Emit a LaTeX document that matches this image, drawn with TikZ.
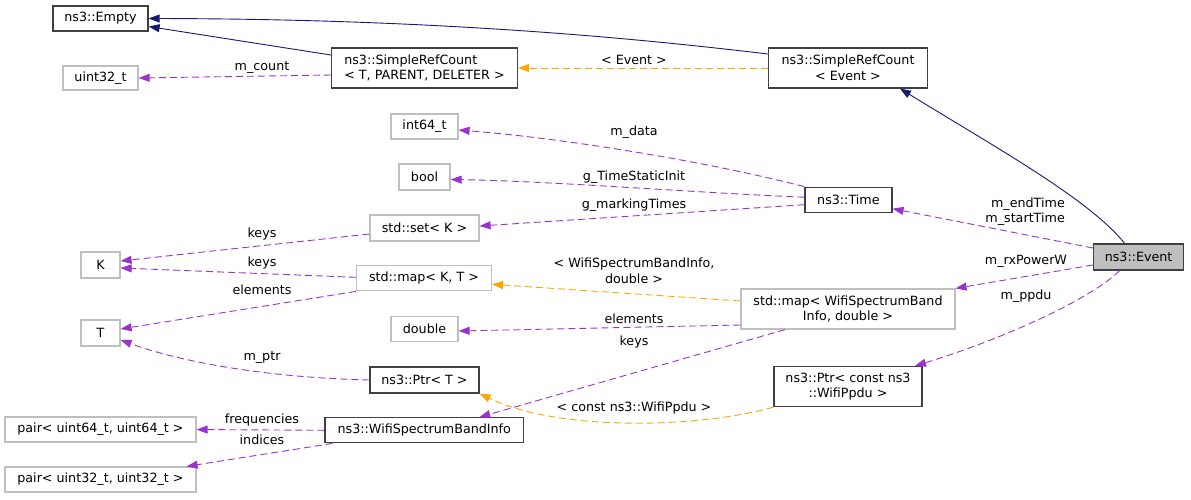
\documentclass[tikz,border=0pt]{standalone}
\usepackage{fontspec}
\setmainfont{DejaVu Sans}
\usetikzlibrary{arrows.meta}
\definecolor{inhcol}{HTML}{191970}
\definecolor{usecol}{HTML}{9A32CD}
\definecolor{tplcol}{HTML}{FFA500}
\definecolor{boxgray}{HTML}{BFBFBF}
\definecolor{boxdark}{HTML}{404040}

\begin{document}
\begin{tikzpicture}[x=1pt, y=-1pt, >={Triangle[length=11pt,width=8pt]},
  font=\fontsize{12.7}{15.5}\selectfont,
  cls/.style={draw=boxdark, line width=1.2pt, fill=white, inner sep=0pt, align=center},
  ext/.style={draw=boxgray, line width=1.2pt, fill=white, inner sep=0pt, align=center},
  inh/.style={->, inhcol, line width=0.9pt},
  use/.style={->, usecol, line width=0.9pt, dash pattern=on 7pt off 4pt},
  tpl/.style={->, tplcol, line width=0.9pt, dash pattern=on 7pt off 4pt},
  lbl/.style={inner sep=0pt}]
  \useasboundingbox (0,0) rectangle (1191,499);

  \node[cls, minimum width=95, minimum height=25] (empty) at (100.5,18.5) {ns3::Empty};
  \node[cls, align=left, minimum width=186, minimum height=40] (srct) at (424.5,68) {ns3::SimpleRefCount\\< T, PARENT, DELETER >};
  \node[cls, minimum width=159, minimum height=40] (srce) at (848,68) {ns3::SimpleRefCount\\< Event >};
  \node[ext, minimum width=75, minimum height=24] (uint) at (100.5,78) {uint32\_t};
  \node[ext, minimum width=67, minimum height=25] (int64) at (424.5,126.5) {int64\_t};
  \node[ext, minimum width=51, minimum height=26] (bool) at (424.5,177) {bool};
  \node[ext, minimum width=109, minimum height=26] (set) at (424.5,228) {std::set< K >};
  \node[cls, minimum width=87, minimum height=25] (time) at (848.4,199.7) {ns3::Time};
  \node[cls, fill=boxgray, minimum width=90, minimum height=26] (evt) at (1138.6,257) {ns3::Event};
  \node[ext, minimum width=39, minimum height=26] (K) at (100.5,265) {K};
  \node[ext, minimum width=135, minimum height=25] (mapkt) at (424,278.3) {std::map< K, T >};
  \node[ext, minimum width=39, minimum height=26] (T) at (100.5,333) {T};
  \node[ext, minimum width=67, minimum height=25] (dbl) at (424.5,329) {double};
  \node[ext, minimum width=214, minimum height=40] (mapw) at (848,309) {std::map< WifiSpectrumBand\\Info, double >};
  \node[cls, minimum width=109, minimum height=26] (ptrt) at (424.5,380) {ns3::Ptr< T >};
  \node[cls, minimum width=148, minimum height=40] (ptrwp) at (848,386.5) {ns3::Ptr< const ns3\\::WifiPpdu >};
  \node[cls, minimum width=198.5, minimum height=25] (wsbi) at (424.3,430.3) {ns3::WifiSpectrumBandInfo};
  \node[ext, minimum width=191, minimum height=25] (pair64) at (100.5,429.5) {pair< uint64\_t, uint64\_t >};
  \node[ext, minimum width=191, minimum height=25] (pair32) at (100.5,479.5) {pair< uint32\_t, uint32\_t >};

  \draw[inh] ([yshift=13pt]srct.west) -- ([yshift=-8pt]empty.east);
  \draw[inh] ([yshift=14pt]srce.west) .. controls (650,40) and (450,19) .. (empty.east);
  \draw[inh] ([xshift=-14pt]evt.north) .. controls (1090,200) and (1000,150) .. ([xshift=52pt]srce.south);
  \draw[use] ([yshift=-7pt]srct.west) -- (uint.east);
  \draw[tpl] (srce.west) -- (srct.east);
  \draw[use] (time.north west) .. controls (700,160) and (560,138) .. ([yshift=-3.5pt]int64.east);
  \draw[use] ([yshift=2.5pt]time.west) .. controls (700,193) and (550,181) .. ([yshift=-2.5pt]bool.east);
  \draw[use] ([yshift=-5pt]time.west) -- ([yshift=2pt]set.east);
  \draw[use] ([yshift=9pt]evt.west) -- ([yshift=-9pt]time.east);
  \draw[use] ([yshift=-6pt]set.west) -- ([yshift=4pt]K.east);
  \draw[use] ([yshift=1pt]mapkt.west) -- ([yshift=-3pt]K.east);
  \draw[use] (mapkt.south west) -- ([yshift=4pt]T.east);
  \draw[tpl] ([yshift=8pt]mapw.west) -- ([yshift=-6pt]mapkt.east);
  \draw[use] ([yshift=-16pt]mapw.west) -- ([yshift=-2pt]dbl.east);
  \draw[use] ([xshift=-63pt]mapw.south) -- ([xshift=55pt]wsbi.north);
  \draw[use] (ptrt.west) .. controls (250,377) and (170,358) .. ([yshift=-7pt]T.east);
  \draw[tpl] (ptrwp.south west) .. controls (700,428) and (560,432) .. (ptrt.south east);
  \draw[use] ([yshift=-8pt]evt.west) -- (mapw.north east);
  \draw[use] ([xshift=-19pt]evt.south) .. controls (1090,300) and (1000,340) .. ([xshift=67pt]ptrwp.north);
  \draw[use] (wsbi.west) -- (pair64.east);
  \draw[use] ([xshift=8pt]wsbi.south west) -- ([xshift=-10pt]pair32.north east);

  \node[lbl] (lcount) at (262,68) {m\_count};
  \node[lbl] (levent) at (634,60) {< Event >};
  \node[lbl] (ldata) at (634,132) {m\_data};
  \node[lbl] (linit) at (634,177) {g\_TimeStaticInit};
  \node[lbl] (lmark) at (634,205) {g\_markingTimes};
  \node[lbl, align=right, anchor=east] (ltime) at (1065,211.5) {m\_endTime\\m\_startTime};
  \node[lbl] (lkeys1) at (262,234) {keys};
  \node[lbl] (lkeys2) at (262,263) {keys};
  \node[lbl] (lelem1) at (262,290) {elements};
  \node[lbl, align=center] (lwsbi) at (634,271) {< WifiSpectrumBandInfo,\\double >};
  \node[lbl] (lelem2) at (634,319) {elements};
  \node[lbl] (lkeys3) at (634,342) {keys};
  \node[lbl] (lptr) at (262,358) {m\_ptr};
  \node[lbl] (lppdu) at (634,408) {< const ns3::WifiPpdu >};
  \node[lbl] (lrx) at (1026,261) {m\_rxPowerW};
  \node[lbl] (lmppdu) at (1026,296) {m\_ppdu};
  \node[lbl] (lfreq) at (262,420) {frequencies};
  \node[lbl] (lind) at (262,440) {indices};
\end{tikzpicture}
\end{document}
